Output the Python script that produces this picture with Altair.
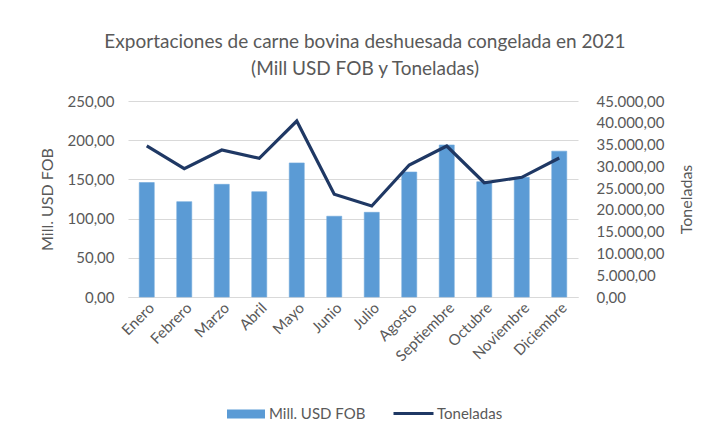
import altair as alt
import pandas as pd

meses = ["Enero", "Febrero", "Marzo", "Abril", "Mayo", "Junio", "Julio",
         "Agosto", "Septiembre", "Octubre", "Noviembre", "Diciembre"]
usd_fob = [146, 121.6, 143.7, 134.3, 171, 103, 108, 159.4, 193.9, 147, 152.7, 186]
toneladas = [34670, 29460, 33750, 31840, 40400, 23580, 20890, 30300, 34670, 26240, 27480, 31920]

df = pd.DataFrame({"mes": meses, "usd": usd_fob, "ton": toneladas,
                   "s1": "Mill. USD FOB", "s2": "Toneladas"})

FONT = "Lato"
GRAY = "#595959"
es_fmt = "replace(replace(replace(format(datum.value, ',.2f'), ',', '_'), '.', ','), '_', '.')"

x = alt.X("mes:N", sort=meses, title=None,
          scale=alt.Scale(paddingInner=0, paddingOuter=0),
          axis=alt.Axis(labelAngle=-45, labelFontSize=15, labelColor=GRAY, labelFont=FONT,
                        ticks=False, domainColor="#D9D9D9", labelPadding=3))

bars = alt.Chart(df).mark_bar(size=15, stroke="#6FA8DC", strokeWidth=0.6).encode(
    x=x,
    y=alt.Y("usd:Q", title="Mill. USD FOB",
            scale=alt.Scale(domain=[0, 250], nice=False),
            axis=alt.Axis(values=[0, 50, 100, 150, 200, 250], labelExpr=es_fmt,
                          grid=True, gridColor="#D9D9D9", domain=False, ticks=False,
                          labelFontSize=15, labelColor=GRAY, labelFont=FONT, labelPadding=14,
                          titleFontSize=16, titleColor=GRAY, titleFont=FONT,
                          titleFontWeight="normal", titlePadding=12)),
    color=alt.Color("s1:N", title=None,
                    scale=alt.Scale(domain=["Mill. USD FOB"], range=["#5B9BD5"]),
                    legend=alt.Legend(orient="none", legendX=99, legendY=294,
                                      symbolType="M-1,-0.24L1,-0.24L1,0.24L-1,0.24Z",
                                      symbolSize=1444, symbolStrokeWidth=0,
                                      labelFontSize=15, labelColor=GRAY, labelFont=FONT,
                                      labelOffset=4)),
)

line = alt.Chart(df).mark_line(strokeWidth=3.2).encode(
    x=x,
    y=alt.Y("ton:Q", title="Toneladas",
            scale=alt.Scale(domain=[0, 45000], nice=False),
            axis=alt.Axis(orient="right", values=list(range(0, 45001, 5000)), labelExpr=es_fmt,
                          grid=False, domain=False, ticks=False,
                          labelFontSize=15, labelColor=GRAY, labelFont=FONT, labelPadding=18,
                          titleFontSize=16, titleColor=GRAY, titleFont=FONT,
                          titleFontWeight="normal", titleAngle=270, titlePadding=31)),
    stroke=alt.Stroke("s2:N", title=None,
                      scale=alt.Scale(domain=["Toneladas"], range=["#1F3864"]),
                      legend=alt.Legend(orient="none", legendX=264, legendY=291,
                                        symbolType="stroke", symbolSize=1600,
                                        symbolStrokeWidth=3,
                                        labelFontSize=15, labelColor=GRAY, labelFont=FONT,
                                        labelOffset=2)),
)

chart = alt.layer(bars, line).resolve_scale(y="independent", color="independent").properties(
    width=450, height=196,
    autosize=alt.AutoSizeParams(type="none"),
    padding={"left": 120, "top": 93, "right": 124, "bottom": 132},
    title=alt.TitleParams(
        ["Exportaciones de carne  bovina deshuesada congelada en 2021", "(Mill USD FOB y Toneladas)"],
        font=FONT, fontSize=19, fontWeight="normal", color=GRAY, anchor="middle",
        dx=12, offset=15, lineHeight=27),
).configure_view(stroke=None)

chart.save("out.html", embed_options={"renderer": "svg", "actions": False})
